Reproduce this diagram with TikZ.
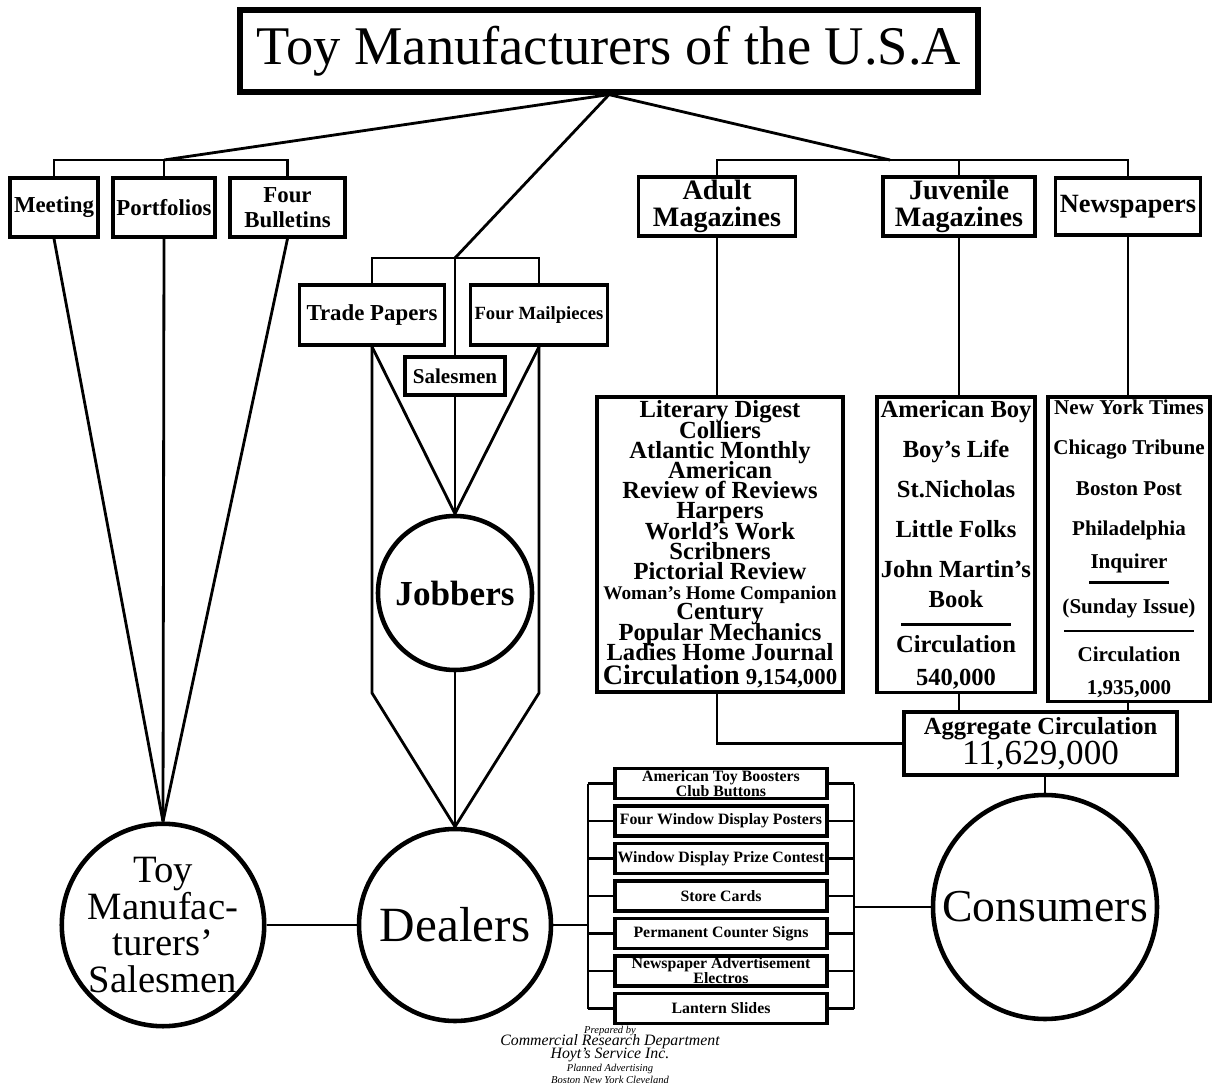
\documentclass[tikz,border=0pt]{standalone}
\usepackage{fontspec}
\setmainfont{Liberation Serif}
\usetikzlibrary{positioning,calc}
\newcommand{\fsz}[2]{\fontsize{#1}{#2}\selectfont\lineskiplimit=-100pt\relax}

\begin{document}
\begin{tikzpicture}[
        line width=0.8pt,
        box/.style={draw, line width=1pt, inner sep=1pt, align=center, font=\fsz{6.5}{7}\bfseries},
        headbox/.style={box, minimum height=5.7mm, font=\fsz{8}{7.5}\bfseries},
        lstbox/.style={box, anchor=north, minimum height=29.5mm},
        promo/.style={box, minimum width=21.2mm, minimum height=3mm, inner sep=0pt, font=\fsz{4.5}{4.3}\bfseries},
        circ/.style={draw, circle, line width=1.3pt, inner sep=0pt, align=center}
    ]
    \path[use as bounding box, fill=white] (0,0) rectangle (12.15,-10.83);

    % Top
    \node[box, line width=1.5pt, minimum width=73.8mm, minimum height=8.2mm, font=\fsz{15.5}{16}]
        (title) at (6.09,-0.51) {Toy Manufacturers of the U.S.A};

    % Left group
    \node[box, minimum width=8.8mm, minimum height=5.9mm]  (meeting) at (0.54,-2.075)  {Meeting};
    \node[box, minimum width=9.8mm, minimum height=5.9mm]  (portf)   at (1.64,-2.075)  {Portfolios};
    \node[box, minimum width=11.5mm, minimum height=5.9mm] (bullet)  at (2.875,-2.075) {Four\\Bulletins};

    % Middle group
    \node[box, minimum width=14.5mm, minimum height=6mm] (trade) at (3.72,-3.15) {Trade Papers};
    \node[box, minimum width=13.7mm, minimum height=6mm, font=\fsz{5.3}{6}\bfseries]
        (mail) at (5.39,-3.15) {Four Mailpieces};
    \node[box, minimum width=10mm, minimum height=3.8mm, font=\fsz{6}{6}\bfseries]
        (salesbox) at (4.55,-3.76) {Salesmen};

    % Right group
    \node[headbox, minimum width=15.7mm] (adult) at (7.17,-2.065)  {Adult\\Magazines};
    \node[headbox, minimum width=15.2mm] (juv)   at (9.59,-2.065)  {Juvenile\\Magazines};
    \node[headbox, minimum width=14.5mm, font=\fsz{7.5}{7.5}\bfseries] (news) at (11.28,-2.065) {Newspapers};

    \node[lstbox, minimum width=24.6mm, font=\fsz{7}{5.75}\bfseries] (adultlist) at (7.20,-3.95)
        {Literary Digest\\Colliers\\Atlantic Monthly\\American\\Review of Reviews\\Harpers\\World's Work\\
         Scribners\\Pictorial Review\\{\fsz{5.5}{5.75}Woman's Home Companion}\\Century\\Popular Mechanics\\
         Ladies Home Journal\\[1pt]{\fsz{8}{8}Circulation} {\fsz{6.5}{8}9,154,000}};
    \node[lstbox, minimum width=15.8mm, font=\fsz{7}{11.4}\bfseries] (juvlist) at (9.56,-3.95)
        {American Boy\\Boy's Life\\St.Nicholas\\Little Folks\\John Martin's\\[-3pt]Book\\[-6pt]
         \rule{11mm}{0.8pt}\\[-4pt]Circulation\\[-2pt]540,000};
    \node[lstbox, minimum width=16.2mm, font=\fsz{6}{11.4}\bfseries] (newslist) at (11.29,-3.95)
        {New York Times\\Chicago Tribune\\Boston Post\\Philadelphia\\[-2pt]Inquirer\\[-7pt]
         \rule{8mm}{0.6pt}\\[-3pt](Sunday Issue)\\[-6pt]\rule{13mm}{0.6pt}\\[-3pt]Circulation\\[-2pt]1,935,000};

    \node[box, minimum width=27.3mm, minimum height=6.3mm, font=\fsz{7}{8.5}\bfseries] (aggr) at (10.405,-7.435)
        {Aggregate Circulation\\{\fsz{10}{10}\mdseries 11,629,000}};

    % Circles
    \node[circ, minimum size=15.4mm, font=\fsz{10}{10}\bfseries] (jobbers)   at (4.55,-5.93)  {Jobbers};
    \node[circ, minimum size=19.4mm, font=\fsz{11}{10.5}]       (salesmen)  at (1.63,-9.25)  {Toy\\Manufac-\\turers'\\Salesmen};
    \node[circ, minimum size=19.2mm, font=\fsz{14}{14}]         (dealers)   at (4.55,-9.25)  {Dealers};
    \node[circ, minimum size=22.4mm, font=\fsz{13}{13}]         (consumers) at (10.45,-9.07) {Consumers};

    % Dealer helps
    \foreach \txt [count=\i] in {{American Toy Boosters\\Club Buttons}, Four Window Display Posters,
            Window Display Prize Contest, Store Cards, Permanent Counter Signs,
            {Newspaper Advertisement\\Electros}, Lantern Slides}
        \node[promo] (p\i) at (7.21,{-7.835-0.375*(\i-1)}) {\txt};

    % Junctions
    \coordinate (lj) at (1.64,-1.60);
    \coordinate (mj) at (4.55,-2.58);
    \coordinate (rj) at (8.90,-1.60);
    \coordinate (lk) at (3.72,-6.93);
    \coordinate (rk) at (5.39,-6.93);
    \coordinate (lbx) at (5.88,0);
    \coordinate (rbx) at (8.54,0);

    % ---- From the top ----
    \draw (title.south) -- (lj);
    \draw (title.south) -- (mj);
    \draw (title.south) -- (rj);
    \draw (meeting.north) |- (bullet.north |- lj) -- (bullet.north);
    \draw (portf.north) -- (portf.north |- lj);
    \draw (trade.north) |- (mj) -| (mail.north);
    \draw (mj) -- (salesbox.north);
    \draw (adult.north) |- (news.north |- rj) -- (news.north);
    \draw (juv.north) -- (juv.north |- rj);

    % ---- Left fan ----
    \foreach \b in {meeting, portf, bullet}
        \draw (\b.south) -- (salesmen.north);

    % ---- Middle fan ----
    \draw (trade.south) -- (lk) -- (dealers.north);
    \draw (mail.south) -- (rk) -- (dealers.north);
    \draw (trade.south) -- (jobbers.north) -- (mail.south);
    \draw (salesbox.south) -- (jobbers.north);
    \draw (jobbers.south) -- (dealers.north);

    % ---- Right side ----
    \draw (adult.south) -- (adult.south |- adultlist.north);
    \draw (juv.south) -- (juv.south |- juvlist.north);
    \draw (news.south) -- (news.south |- newslist.north);
    \draw (adult.south |- adultlist.south) |- (aggr.west);
    \draw (juv.south |- juvlist.south) -- (juv.south |- aggr.north);
    \draw (news.south |- newslist.south) -- (news.south |- aggr.north);
    \draw (aggr.south -| consumers) -- (consumers.north);

    % ---- Bottom row ----
    \draw (salesmen.east) -- (dealers.west);
    \foreach \i in {1,...,7} {
        \draw (p\i.west) -- (p\i.west -| lbx);
        \draw (p\i.east) -- (p\i.east -| rbx);
    }
    \draw (p1.west -| lbx) -- (p7.west -| lbx);
    \draw (p1.east -| rbx) -- (p7.east -| rbx);
    \draw (dealers.east) -- (dealers.east -| lbx);
    \draw (consumers.west) -- (consumers.west -| rbx);

    % Footer
    \node[align=center, font=\fsz{3}{3.6}\itshape] (credit) at (6.10,-10.55)
        {Prepared by\\{\fsz{4.5}{3.6}Commercial Research Department}\\{\fsz{4.5}{3.6}Hoyt's Service Inc.}\\
         Planned Advertising\\Boston New York Cleveland};
\end{tikzpicture}
\end{document}
